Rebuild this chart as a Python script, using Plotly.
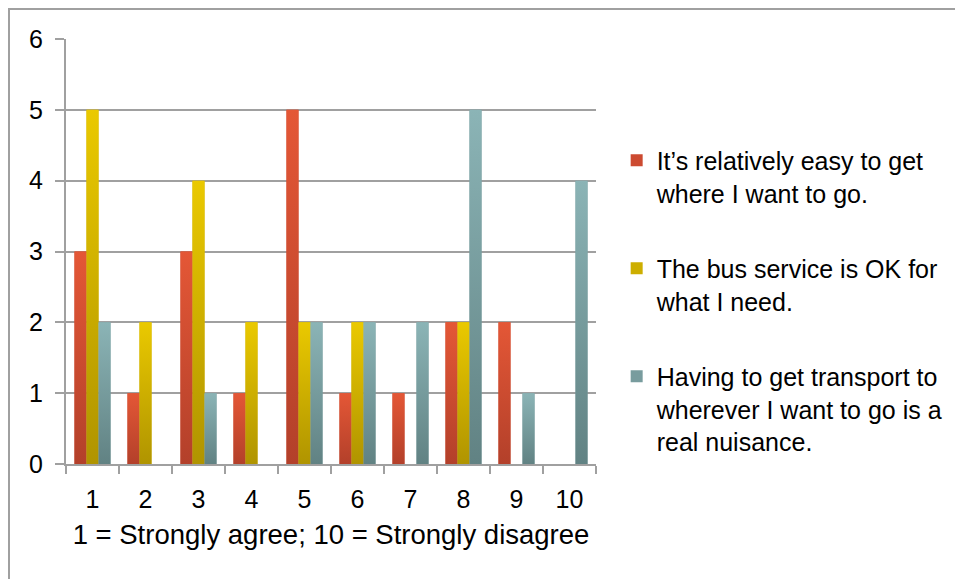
import plotly.graph_objects as go

categories = [1, 2, 3, 4, 5, 6, 7, 8, 9, 10]
easy = [3, 1, 3, 1, 5, 1, 1, 2, 2, 0]
bus_ok = [5, 2, 4, 2, 2, 2, 0, 2, 0, 0]
nuisance = [2, 0, 1, 0, 2, 2, 2, 5, 1, 4]
series_names = [
    "It\u2019s relatively easy to get<br>where I want to go.",
    "The bus service is OK for<br>what I need.",
    "Having to get transport to<br>wherever I want to go is a<br>real nuisance.",
]
y_ticks = [0, 1, 2, 3, 4, 5, 6]

series = [easy, bus_ok, nuisance]
solid = ["#CC4A30", "#CDAE00", "#789C9E"]
grad = [
    ("#B3402A", "#E45736"),
    ("#B09400", "#EAC900"),
    ("#618283", "#8BB4B6"),
]

FONT = "Liberation Sans"
bargap = 0.32
n = len(series)
w = (1 - bargap) / n

fig = go.Figure()
for i, (vals, name, col) in enumerate(zip(series, series_names, solid)):
    fig.add_trace(go.Bar(
        x=categories, y=vals, name=name, marker=dict(color=col, line=dict(width=0)),
        legendgroup=f"g{i}", hoverinfo="skip",
    ))

# gradient overlays computed from the data through the axis scales
for i, vals in enumerate(series):
    off = (i - (n - 1) / 2) * w
    for c, v in zip(categories, vals):
        if v <= 0:
            continue
        x0, x1 = c + off - w / 2, c + off + w / 2
        fig.add_trace(go.Scatter(
            x=[x0, x1, x1, x0, x0], y=[0, 0, v, v, 0], mode="lines",
            fill="toself", line=dict(width=0),
            fillgradient=dict(type="vertical",
                              colorscale=[[0, grad[i][0]], [1, grad[i][1]]]),
            legendgroup=f"g{i}", showlegend=False, hoverinfo="skip",
        ))

fig.update_layout(
    width=955, height=579,
    margin=dict(l=66, r=359, t=39, b=115, autoexpand=False),
    paper_bgcolor="white", plot_bgcolor="white",
    barmode="group", bargap=bargap, bargroupgap=0,
    font=dict(family=FONT, size=24, color="#000000"),
    showlegend=True,
    legend=dict(
        x=1.039, xanchor="left", y=0.768, yanchor="top",
        font=dict(family=FONT, size=25, color="#000000"),
        tracegroupgap=40, itemsizing="constant", traceorder="grouped",
        valign="top", bgcolor="rgba(0,0,0,0)",
    ),
    xaxis=dict(
        range=[0.5, 10.5], tickmode="array", tickvals=categories,
        ticktext=[str(c) for c in categories], ticks="",
        showgrid=False, showline=True, linecolor="#A0A0A0", linewidth=2,
        zeroline=False, ticklabelstandoff=12,
        tickfont=dict(family=FONT, size=25),
        minor=dict(tick0=0.5, dtick=1, ticks="outside", ticklen=8,
                   tickcolor="#A0A0A0", tickwidth=2, showgrid=False),
        title=dict(text="1 = Strongly agree; 10 = Strongly disagree",
                   font=dict(family=FONT, size=27.5), standoff=13),
    ),
    yaxis=dict(
        range=[0, 6], tickvals=y_ticks, ticks="outside", ticklen=9,
        tickcolor="#A0A0A0", tickwidth=2,
        showgrid=True, gridcolor="#A0A0A0", gridwidth=2,
        showline=True, linecolor="#A0A0A0", linewidth=2, zeroline=False,
        ticklabelstandoff=7, tickfont=dict(family=FONT, size=25),
    ),
    shapes=[dict(type="rect", xref="paper", yref="paper",
                 x0=-57 / 530, x1=900 / 530, y0=-120 / 425, y1=455 / 425,
                 line=dict(color="#A0A0A0", width=2), layer="below")],
)

fig.write_html("out.html")
